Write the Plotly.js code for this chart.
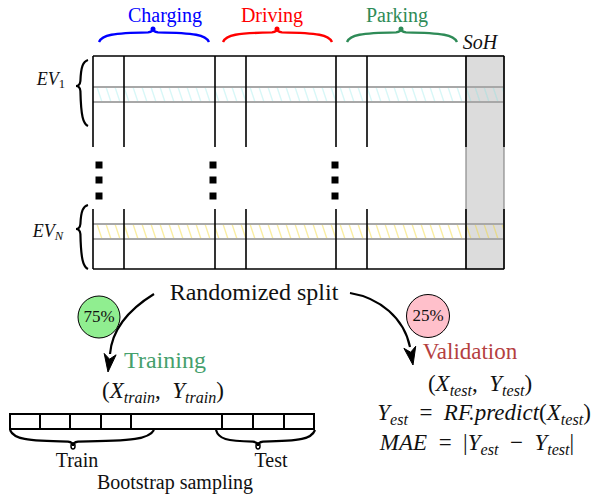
<!DOCTYPE html>
<html>
<head>
<meta charset="utf-8">
<script src="https://cdn.plot.ly/plotly-3.0.1.min.js"></script>
<style>html,body{margin:0;padding:0;background:#fff;}#chart{width:602px;height:499px;}</style>
</head>
<body>
<div id="chart"></div>
<script>
// ---- content ----
const SP = '\u2002';
const phases = ['Charging', 'Driving', 'Parking'];
const targetLabel = 'SoH';
const evLabels = ['<i>EV</i><sub>1</sub>', '<i>EV</i><sub><i>N</i></sub>'];
const splitLabel = 'Randomized split';
const splitShares = ['75%', '25%'];
const setNames = ['Training', 'Validation'];
const trainingSet = '(<i>X</i><sub><i>train</i></sub>,' + SP + '<i>Y</i><sub><i>train</i></sub>)';
const validationLines = [
  '(<i>X</i><sub><i>test</i></sub>,' + SP + '<i>Y</i><sub><i>test</i></sub>)',
  '<i>Y</i><sub><i>est</i></sub>' + SP + '=' + SP + '<i>RF.predict</i>(<i>X</i><sub><i>test</i></sub>)',
  '<i>MAE</i>' + SP + '=' + SP + '|<i>Y</i><sub><i>est</i></sub>' + SP + '−' + SP + '<i>Y</i><sub><i>test</i></sub>|'
];
const bootstrapLabels = ['Train', 'Test'];
const bootstrapTitle = 'Bootstrap sampling';

// ---- styles ----
const phaseColors = ['#0000ff', '#ff0000', '#2e8b57'];
const FONT_FAMILY = 'Liberation Serif';
const INK = '#111';

const shapeList = [];
const txt = [], tx = [], ty = [], tsize = [], tcolor = [];
function addShape(s) { s.layer = 'below'; s.xref = 'x'; s.yref = 'y'; shapeList.push(s); }
function addLine(x0, y0, x1, y1, color, w) {
  addShape({type: 'line', x0, y0, x1, y1, line: {color, width: w}});
}
function addRect(x0, y0, x1, y1, fill, lc, lw) {
  addShape({type: 'rect', x0, y0, x1, y1, fillcolor: fill, line: {color: lc, width: lw}});
}
function addPath(d, color, w, fill) {
  addShape({type: 'path', path: d, line: {color, width: w}, fillcolor: fill || 'rgba(0,0,0,0)'});
}
function addCircle(x0, y0, x1, y1, fill, lc, lw) {
  addShape({type: 'circle', x0, y0, x1, y1, fillcolor: fill, line: {color: lc, width: lw}});
}
function addText(t, x, y, sz, color) {
  txt.push(t); tx.push(x); ty.push(y); tsize.push(sz); tcolor.push(color);
}
// curly brace: a along axis (a0..a1, tip at at), b perpendicular (bE ends, bM arm, bT tip)
function brace(a0, a1, at, bE, bM, bT, vertical) {
  const P = (a, b) => vertical ? `${b},${a}` : `${a},${b}`;
  const L = at - a0, R = a1 - at, s = Math.sign(bE - bM);
  return `M ${P(a0, bE)} C ${P(a0 + 0.06 * L, bM + 2 * s)} ${P(a0 + 0.25 * L, bM)} ${P(at - 5, bM - 0.6 * s)} ` +
    `C ${P(at - 1.5, bM - 1 * s)} ${P(at, bT + 2 * s)} ${P(at, bT)} ` +
    `C ${P(at, bT + 2 * s)} ${P(at + 1.5, bM - 1 * s)} ${P(at + 5, bM - 0.6 * s)} ` +
    `C ${P(a1 - 0.25 * R, bM)} ${P(a1 - 0.06 * R, bM + 2 * s)} ${P(a1, bE)}`;
}
function arrowhead(tipx, tipy, dx, dy) {
  const n = Math.hypot(dx, dy); dx /= n; dy /= n;
  const nx = -dy, ny = dx, Lh = 18, W = 6;
  const b1 = [tipx - Lh * dx + W * nx, tipy - Lh * dy + W * ny];
  const b2 = [tipx - Lh * dx - W * nx, tipy - Lh * dy - W * ny];
  const nc = [tipx - 0.72 * Lh * dx, tipy - 0.72 * Lh * dy];
  addPath(`M ${tipx},${tipy} L ${b1[0]},${b1[1]} L ${nc[0]},${nc[1]} L ${b2[0]},${b2[1]} Z`, '#000', 1, '#000');
}

// ---- data matrix ----
const X0 = 93, X1 = 504, Y0 = 56, Y1 = 269, gapTop = 147, gapBot = 209;
const cols = [93, 124, 215, 246, 336, 367, 466, 504];
addRect(466, Y0, 504, Y1, '#dcdcdc', '#8a8a8a', 1.2);

function hatch(y0, y1, color) {
  const dx = 5, step = 9;
  for (let x = X0 - dx; x < X1; x += step) {
    let xa = x, ya = y0, xb = x + dx, yb = y1;
    if (xa < X0) { ya = y0 + (X0 - xa) / dx * (y1 - y0); xa = X0; }
    if (xb > X1) { yb = y0 + (X1 - x) / dx * (y1 - y0); xb = X1; }
    addLine(xa, ya, xb, yb, color, 1.3);
  }
  addLine(X0, y0, X1, y0, '#a8a8a8', 2);
  addLine(X0, y1, X1, y1, '#a8a8a8', 2);
}
hatch(87, 102, 'rgba(120,230,230,0.3)');
hatch(224, 239, 'rgba(245,215,40,0.45)');

addLine(X0, Y0, X1, Y0, '#000', 1.6);
addLine(X0, Y1, X1, Y1, '#000', 1.6);
cols.forEach(x => { addLine(x, Y0, x, gapTop, '#000', 1.6); addLine(x, gapBot, x, Y1, '#000', 1.6); });

// vertical dots
[99, 213, 335].forEach(x => [165, 180, 196].forEach(y => addRect(x - 3.5, y - 3.5, x + 3.5, y + 3.5, '#000', '#000', 0)));

// EV braces + labels
addPath(brace(60, 126, 86, 88, 81, 76, true), '#000', 2.2);
addPath(brace(205, 269, 229, 88, 81, 76, true), '#000', 2.2);
addText(evLabels[0], 51, 80, 18, INK);
addText(evLabels[1], 48, 232, 18, INK);

// phase braces + labels
const phaseSpans = [[99, 209, 153], [223, 332, 277], [347, 457, 401]];
const phaseLabelX = [165, 272, 397];
phases.forEach((p, i) => {
  const [a0, a1, at] = phaseSpans[i];
  addPath(brace(a0, a1, at, 42, 33, 28.5, false), phaseColors[i], 2.4);
  addCircle(at - 2.5, 26.5, at + 2.5, 31.5, phaseColors[i], phaseColors[i], 0);
  addText(p, phaseLabelX[i], 17, 20, phaseColors[i]);
});
addText('<i>' + targetLabel + '</i>', 480, 44, 20, INK);

// randomized split + arrows
addText(splitLabel, 254, 294, 24, INK);
addPath('M 154,294 C 128,310 112,330 110,354', '#000', 2.2);
arrowhead(108, 372, -0.12, 1);
addPath('M 350,293 C 380,298 404,318 410,347', '#000', 2.2);
arrowhead(413, 365, 0.18, 1);

// share circles
const circ = [[99, 317, 21, '#90ee90'], [428, 316, 21.5, '#ffc0cb']];
splitShares.forEach((s, i) => {
  const [cx, cy, r, f] = circ[i];
  addCircle(cx - r, cy - r, cx + r, cy + r, f, '#000', 1);
  addText(s, cx, cy + 1, 17, INK);
});

// training side
addText(setNames[0], 165, 362, 24, '#45a06c');
addText(trainingSet, 163, 392, 23, INK);
const bx0 = 10, bx1 = 314, by0 = 414, by1 = 429;
addRect(bx0, by0, bx1, by1, 'rgba(0,0,0,0)', '#000', 2);
[40, 70, 101, 131, 222, 253, 284].forEach(x => addLine(x, by0, x, by1, '#000', 2));
addPath(brace(10, 154, 73, 430, 441, 446, false), '#000', 2.2);
addPath(brace(216, 315, 258, 430, 441, 446, false), '#000', 2.2);
addCircle(71, 443, 75, 449, 'rgba(0,0,0,0)', '#000', 1.5);
addCircle(256, 443, 260, 449, 'rgba(0,0,0,0)', '#000', 1.5);
addText(bootstrapLabels[0], 77, 462, 20, INK);
addText(bootstrapLabels[1], 271, 462, 20, INK);
addText(bootstrapTitle, 175, 484, 20, INK);

// validation side
addText(setNames[1], 470, 353, 23, '#b5403f');
addText(validationLines[0], 480, 385, 23, INK);
addText(validationLines[1], 484, 414, 23, INK);
addText(validationLines[2], 477, 444, 23, INK);

const layout = {
  width: 602, height: 499,
  margin: {l: 0, r: 0, t: 0, b: 0},
  paper_bgcolor: '#fff', plot_bgcolor: '#fff',
  font: {family: FONT_FAMILY},
  showlegend: false,
  xaxis: {range: [0, 602], visible: false, fixedrange: true},
  yaxis: {range: [499, 0], visible: false, fixedrange: true},
  shapes: shapeList
};
const textTrace = {
  type: 'scatter', mode: 'text', x: tx, y: ty, text: txt,
  textposition: 'middle center', cliponaxis: false, hoverinfo: 'skip',
  textfont: {family: FONT_FAMILY, size: tsize, color: tcolor}
};
Plotly.newPlot('chart', [textTrace], layout, {displayModeBar: false});
</script>
</body>
</html>
